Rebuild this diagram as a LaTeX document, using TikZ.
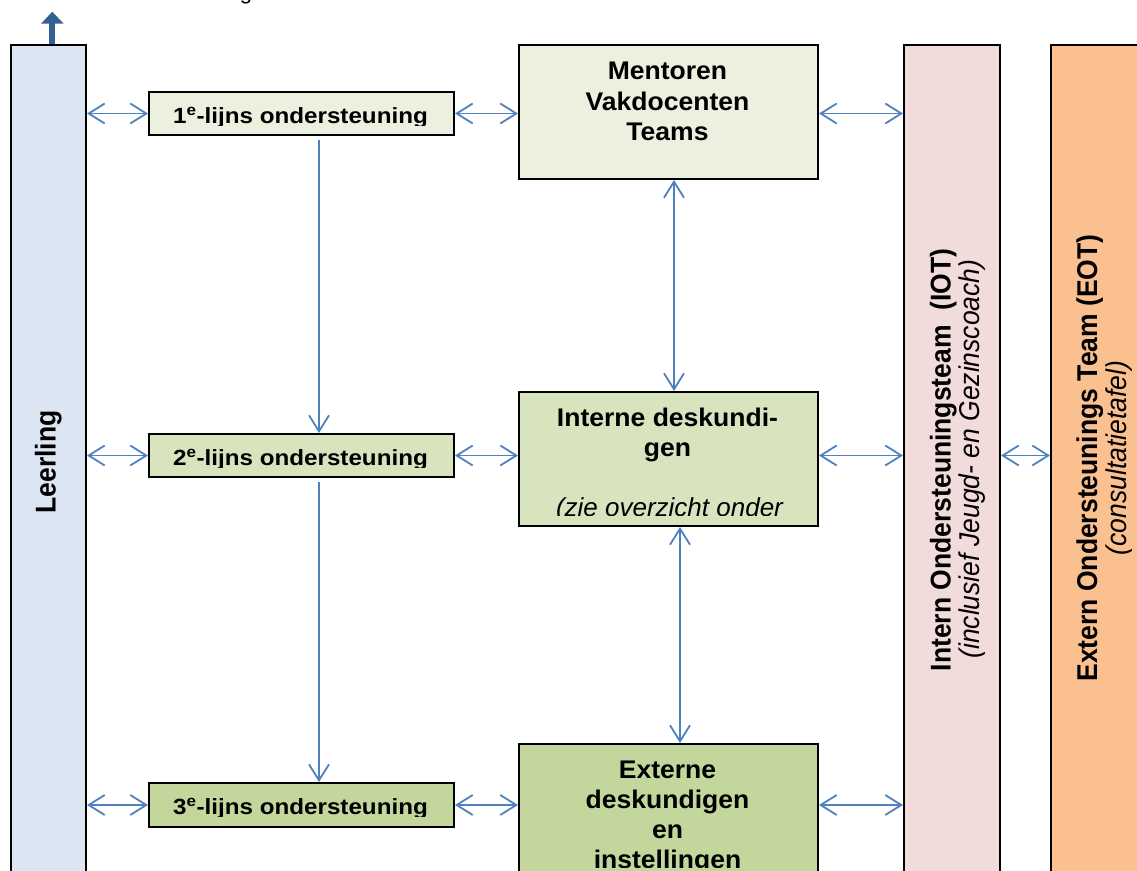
\documentclass[tikz,border=0pt]{standalone}
\usepackage{fontspec}
\setmainfont{Liberation Sans}
\usetikzlibrary{arrows.meta}
\definecolor{leerblue}{HTML}{DCE6F2}
\definecolor{greenA}{HTML}{EBF1DE}
\definecolor{greenB}{HTML}{D7E4BD}
\definecolor{greenC}{HTML}{C3D69B}
\definecolor{iotpink}{HTML}{F2DCDB}
\definecolor{eotorange}{HTML}{FAC090}
\definecolor{arrowblue}{HTML}{4F81BD}
\definecolor{darkblue}{HTML}{376092}
\newcommand{\hstretch}[1]{\scalebox{1.1}[1]{#1}}
\newcommand{\thick}[1]{\scalebox{1}[1.08]{#1}}
\begin{document}
\begin{tikzpicture}[x=1pt,y=-1pt,
  box/.style={draw=black,line width=2pt,anchor=north west,inner sep=0pt},
  arr/.style={draw=arrowblue,line width=1.8pt,
    {Straight Barb[length=16pt,width=20pt]}-{Straight Barb[length=16pt,width=20pt]}},
  arrone/.style={draw=arrowblue,line width=1.8pt,-{Straight Barb[length=16pt,width=20pt]}},
  bigarrow/.style={draw=darkblue,line width=6pt,-{Triangle[length=12pt,width=22pt]}},
  lbl/.style={anchor=base,inner sep=0pt,font=\bfseries\fontsize{22}{26}\selectfont},
  big/.style={anchor=base,inner sep=0pt,font=\bfseries\fontsize{25.5}{30}\selectfont},
  bigit/.style={anchor=base,inner sep=0pt,font=\itshape\fontsize{26}{30}\selectfont},
  rotb/.style={anchor=base,inner sep=0pt,rotate=90,font=\bfseries\fontsize{26.5}{30}\selectfont},
  roti/.style={anchor=base,inner sep=0pt,rotate=90,font=\itshape\fontsize{26.5}{30}\selectfont}
]
\useasboundingbox (0,0) rectangle (1137,870);
\clip (0,0) rectangle (1137,870);

% fragment of text above the picture
\node[anchor=base,inner sep=0pt,font=\fontsize{22}{26}\selectfont] (topg) at (246,-0.5) {g};

% columns and boxes
\node[box,fill=leerblue,minimum width=75pt,minimum height=850pt] (leer) at (10,44) {};
\node[box,fill=iotpink,minimum width=96pt,minimum height=850pt] (iot) at (903,44) {};
\node[box,fill=eotorange,minimum width=100pt,minimum height=850pt] (eot) at (1050,44) {};

\node[box,fill=greenA,minimum width=305pt,minimum height=43pt] (l1) at (148,91) {};
\node[box,fill=greenB,minimum width=305pt,minimum height=43pt] (l2) at (148,433) {};
\node[box,fill=greenC,minimum width=305pt,minimum height=44pt] (l3) at (148,782) {};

\node[box,fill=greenA,minimum width=299pt,minimum height=134pt] (ment) at (518,44) {};
\node[box,fill=greenB,minimum width=299pt,minimum height=134pt] (inter) at (518,391) {};
\node[box,fill=greenC,minimum width=299pt,minimum height=150pt] (ext) at (518,743) {};

% texts of the line boxes (clipped as in the original)
\begin{scope}
  \clip (148,91) rectangle (453,125);
  \node[lbl] (t1) at (300.5,123.5) {\hstretch{1\textsuperscript{e}-lijns ondersteuning}};
\end{scope}
\begin{scope}
  \clip (148,433) rectangle (453,467);
  \node[lbl] (t2) at (300.5,465.5) {\hstretch{2\textsuperscript{e}-lijns ondersteuning}};
\end{scope}
\begin{scope}
  \clip (148,782) rectangle (453,816);
  \node[lbl] (t3) at (300.5,814.5) {\hstretch{3\textsuperscript{e}-lijns ondersteuning}};
\end{scope}

% Mentoren box
\node[big] (m1) at (667.5,79.5) {\scalebox{1.04}[1]{Mentoren}};
\node[big] (m2) at (667.5,110) {\scalebox{1.04}[1]{Vakdocenten}};
\node[big] (m3) at (667.5,140.5) {\scalebox{1.04}[1]{Teams}};

% Interne box
\begin{scope}
  \clip (518,391) rectangle (817,515);
  \node[big] (i1) at (667.5,426.5) {\scalebox{1.04}[1]{Interne deskundi-}};
  \node[big] (i2) at (667.5,456.5) {\scalebox{1.04}[1]{gen}};
  \node[bigit] (i3) at (669.5,516.5) {(zie overzicht onder};
\end{scope}

% Externe box
\begin{scope}
  \clip (518,743) rectangle (817,867);
  \node[big] (e1) at (667.5,778) {\scalebox{1.04}[1]{Externe}};
  \node[big] (e2) at (667.5,808) {\scalebox{1.04}[1]{deskundigen}};
  \node[big] (e3) at (667.5,838) {\scalebox{1.04}[1]{en}};
  \node[big] (e4) at (667.5,868) {\scalebox{1.04}[1]{instellingen}};
\end{scope}

% rotated texts
\node[rotb] (leertxt) at (55.5,462) {\thick{Leerling}};
\node[rotb] (iot1) at (950.5,460) {\thick{Intern Ondersteuningsteam\ \ (IOT)}};
\node[roti] (iot2) at (979,459) {\thick{(inclusief Jeugd- en Gezinscoach)}};
\node[rotb] (eot1) at (1097,458) {\thick{Extern Ondersteunings Team (EOT)}};
\node[roti] (eot2) at (1126,458) {\thick{(consultatietafel)}};

% thick arrow on top of Leerling
\coordinate (upend) at (52.3,11.7);
\draw[bigarrow] (leer.north -| upend) -- (upend);

% horizontal connectors
\draw[arr] (leer.east |- l1) -- (l1.west);
\draw[arr] (l1.east) -- (ment.west |- l1);
\draw[arr] (ment.east |- l1) -- (iot.west |- l1);

\draw[arr] (leer.east |- l2) -- (l2.west);
\draw[arr] (l2.east) -- (inter.west |- l2);
\draw[arr] (inter.east |- l2) -- (iot.west |- l2);
\draw[arr] (iot.east |- l2) -- (eot.west |- l2);

\draw[arr] (leer.east |- l3) -- (l3.west);
\draw[arr] (l3.east) -- (ext.west |- l3);
\draw[arr] (ext.east |- l3) -- (iot.west |- l3);

% vertical connectors
\coordinate (vx) at (319,0);
\coordinate (vm) at (674,0);
\coordinate (vi) at (680,0);
\draw[arrone,shorten <=4pt] (l1.south -| vx) -- (l2.north -| vx);
\draw[arrone,shorten <=4pt] (l2.south -| vx) -- (l3.north -| vx);
\draw[arr] (ment.south -| vm) -- (inter.north -| vm);
\draw[arr] (inter.south -| vi) -- (ext.north -| vi);
\end{tikzpicture}
\end{document}
